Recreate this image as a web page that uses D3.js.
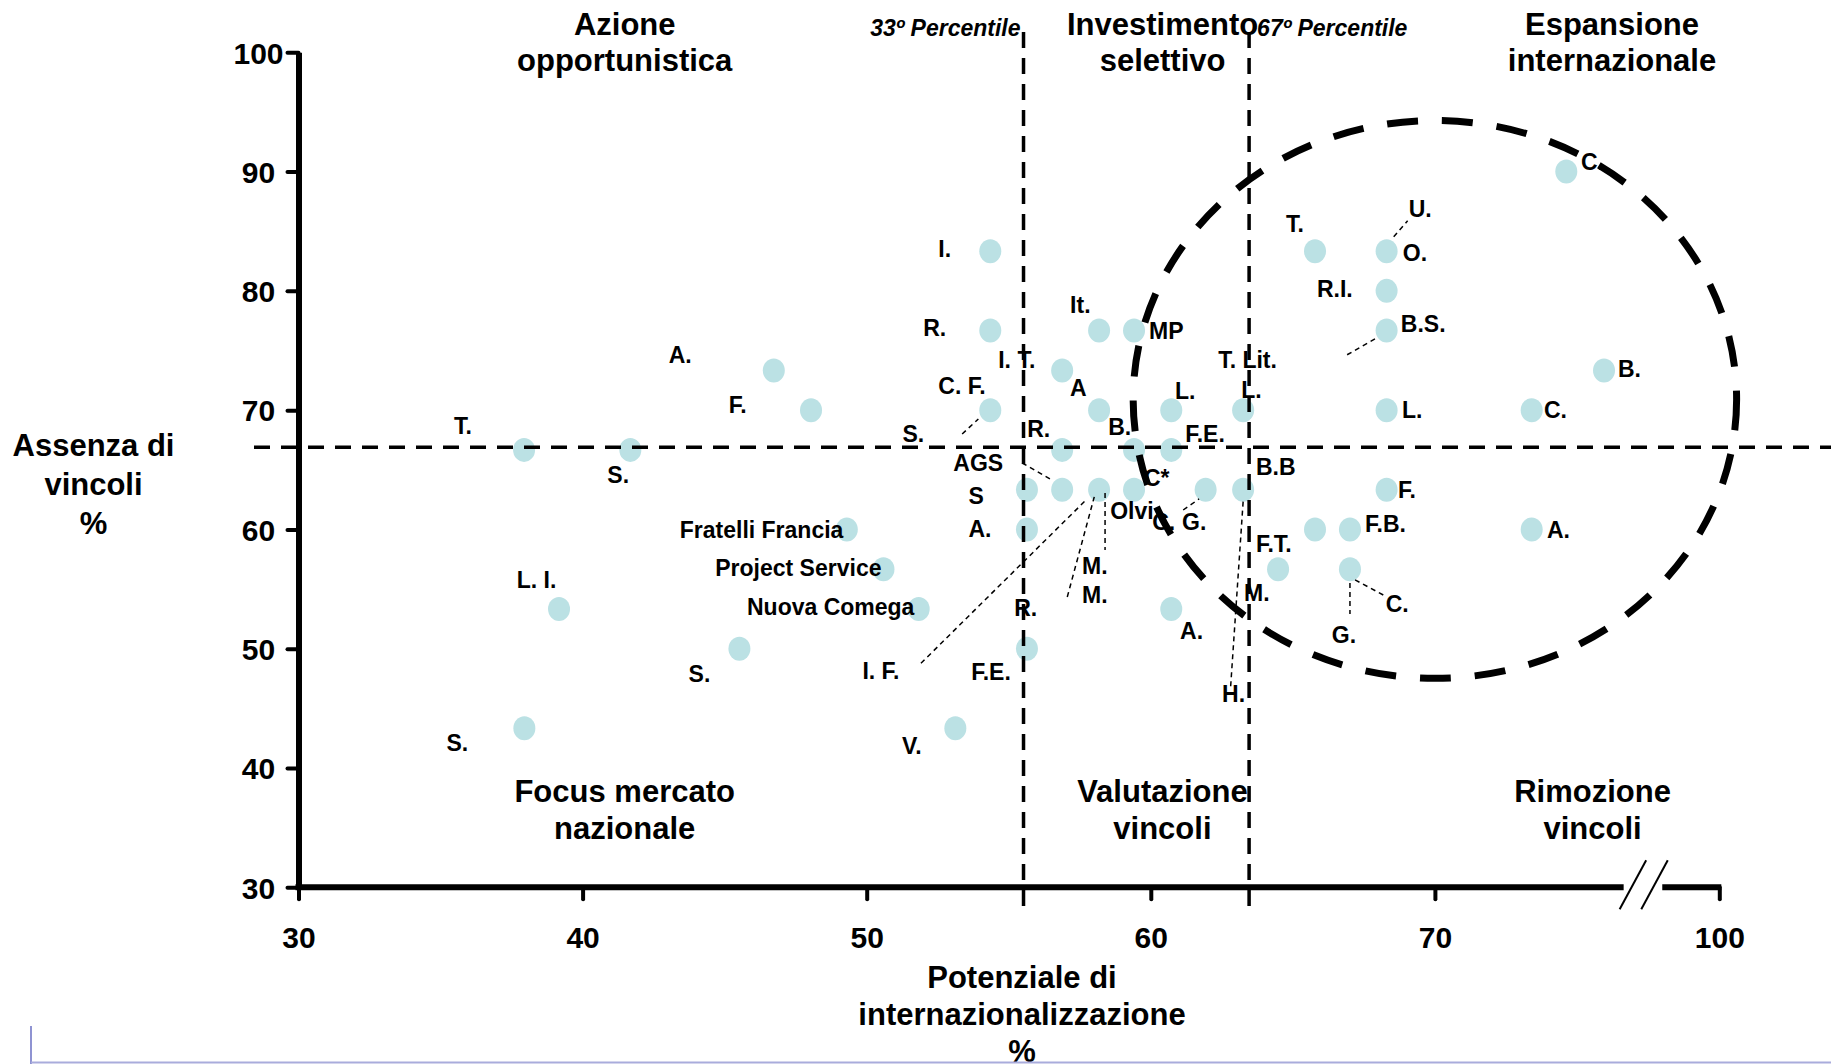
<!DOCTYPE html>
<html><head><meta charset="utf-8">
<script src="https://cdn.jsdelivr.net/npm/d3@7"></script>
<style>
body{margin:0;background:#fff;}
svg text{font-family:"Liberation Sans",Arial,Helvetica,sans-serif;font-weight:bold;fill:#000;}
</style></head><body>
<svg id="chart" width="1831" height="1064"></svg>
<script>
// ---------- data ----------
const xTicks = [30, 40, 50, 60, 70, 100];
const yTicks = [30, 40, 50, 60, 70, 80, 90, 100];
const xBreak = [89.7, 94.3];            // axis break between 70 and 100
const percentileX = [55.52, 63.46];     // 33° and 67° percentile
const percentileY = 66.9;
const percentileNames = ["33º Percentile", "67º Percentile"];

// companies: [potenziale %, assenza vincoli %]
const leftPoints = [
  [37.94, 66.67], [41.68, 66.67], [46.73, 73.33], [48.04, 70.0],
  [49.30, 60.0], [50.59, 56.67], [51.83, 53.33], [39.17, 53.33],
  [45.52, 50.0], [37.95, 43.33], [53.12, 43.33]
];
const midPoints = [
  [54.35, 83.33], [54.35, 76.67], [54.35, 70.0], [56.88, 73.33],
  [58.18, 76.67], [59.41, 76.67], [58.18, 70.0], [60.72, 70.0], [63.25, 70.0],
  [56.88, 66.67], [59.41, 66.67], [60.72, 66.67],
  [55.64, 63.33], [56.88, 63.33], [58.18, 63.33], [59.41, 63.33], [61.93, 63.33], [63.25, 63.33],
  [55.64, 60.0], [55.64, 50.0], [60.72, 53.33]
];
const rightPoints = [
  [65.78, 83.33], [68.30, 83.33], [68.30, 80.0], [68.30, 76.67], [68.30, 70.0],
  [68.30, 63.33], [65.78, 60.0], [67.01, 60.0], [64.48, 56.67], [67.01, 56.67],
  [80.21, 70.0], [80.21, 60.0], [87.84, 73.33], [83.86, 90.0]
];

// point labels: text, x, y (data units), anchor
const pointLabels = [
  ["T.",35.47,67.98],["S.",40.87,63.86],["A.",43.03,73.98],["F.",45.14,69.74],
  ["Fratelli Francia",49.18,59.26,"end"],["Project Service",50.52,56.13,"end"],["Nuova Comega",51.68,52.83,"end"],
  ["L. I.",37.68,55.1],["S.",43.73,47.19],["S.",35.21,41.44],["V.",51.24,41.18],
  ["I.",52.52,82.87],["R.",51.99,76.24],["C. F.",52.52,71.36],["S.",51.26,67.33],
  ["I. T.",54.63,73.56],["It.",57.16,78.17],["MP",59.94,75.97],["A",57.16,71.22],
  ["L.",60.85,70.94],["L.",63.18,71.02],["T. Lit.",62.37,73.54],
  ["R.",55.65,67.75],["B.",58.5,67.92],["F.E.",61.21,67.36],
  ["AGS",53.05,64.93],["C*",59.76,63.67],["B.B",63.7,64.57],["S",53.58,62.11],["A.",53.58,59.35],
  ["Olvi",58.57,60.88],["C.",60.05,59.96],["G.",61.1,59.96],["F.T.",63.7,58.14],
  ["M.",57.58,56.25],["M.",57.58,53.81],["M.",63.28,54.03],["R.",55.19,52.77],
  ["A.",61.03,50.82],["F.E.",53.68,47.38],["I. F.",49.85,47.44],["H.",62.51,45.57],
  ["T.",64.76,84.91],["U.",69.08,86.22],["O.",68.87,82.51],["R.I.",65.85,79.51],
  ["B.S.",68.8,76.58],["B.",89.31,72.76],["L.",68.84,69.32],["C.",81.51,69.32],
  ["F.",68.7,62.67],["F.B.",67.54,59.82],["A.",81.82,59.31],["C.",68.27,53.06],
  ["G.",66.37,50.51],["C.",85.41,90.16]
];

// dashed leader lines: [x1,y1,x2,y2] data units
const leaders = [
  [53.36,68.0,53.93,69.26],[55.47,65.57,56.46,64.23],[51.91,48.78,57.72,62.47],
  [57.06,54.34,58.01,62.73],[58.39,63.06,58.39,58.28],[61.14,61.63,61.7,62.56],
  [63.25,62.33,62.81,46.82],[68.55,84.54,69.04,85.88],[67.89,75.97,66.9,74.63],
  [67.19,55.77,68.24,54.43],[67.01,55.52,67.01,52.92]
];

// highlighted zone (ellipse): centre and extremes in data units
const zoneCenter = [70, 70.9];
const zoneLeftX = 59.38;
const zoneTopY = 94.28;

const quadrantTitles = [
  ["Azione", "opportunistica"], ["Investimento", "selettivo"], ["Espansione", "internazionale"],
  ["Focus mercato", "nazionale"], ["Valutazione", "vincoli"], ["Rimozione", "vincoli"]
];
const yTitle = ["Assenza di", "vincoli", "%"];
const xTitle = ["Potenziale di", "internazionalizzazione", "%"];

// ---------- layout ----------
const svg = d3.select("#chart");
const x = d3.scaleLinear().domain([30, 70, 100]).range([298.5, 1434.9, 1719.3]);
const y = d3.scaleLinear().domain([30, 100]).range([887.3, 52.3]);
const font = 31;

// points
const allPoints = leftPoints.concat(midPoints, rightPoints);
svg.append("g").selectAll("ellipse").data(allPoints).join("ellipse")
  .attr("cx", d => x(d[0])).attr("cy", d => y(d[1]))
  .attr("rx", 11).attr("ry", 12).attr("fill", "#bbe1e4");

// percentile lines
svg.append("g").selectAll("line").data(percentileX).join("line")
  .attr("x1", d => x(d)).attr("x2", d => x(d))
  .attr("y1", 32).attr("y2", 914)
  .attr("stroke", "#000").attr("stroke-width", 3.5).attr("stroke-dasharray", "16,10");
svg.append("line")
  .attr("x1", 254).attr("x2", 1831).attr("y1", y(percentileY)).attr("y2", y(percentileY))
  .attr("stroke", "#000").attr("stroke-width", 3.5).attr("stroke-dasharray", "16,11");

// ellipse zone
svg.append("ellipse")
  .attr("cx", x(zoneCenter[0])).attr("cy", y(zoneCenter[1]))
  .attr("rx", x(zoneCenter[0]) - x(zoneLeftX)).attr("ry", y(zoneCenter[1]) - y(zoneTopY))
  .attr("fill", "none").attr("stroke", "#000").attr("stroke-width", 7)
  .attr("stroke-dasharray", "31,24");

// leader lines
svg.append("g").selectAll("line").data(leaders).join("line")
  .attr("x1", d => x(d[0])).attr("y1", d => y(d[1]))
  .attr("x2", d => x(d[2])).attr("y2", d => y(d[3]))
  .attr("stroke", "#000").attr("stroke-width", 1.5).attr("stroke-dasharray", "5,4");

// point labels
svg.append("g").selectAll("text").data(pointLabels).join("text")
  .attr("x", d => x(d[1])).attr("y", d => y(d[2]))
  .attr("text-anchor", d => d[3] || "start")
  .style("font-size", "23px").text(d => d[0]);

// y axis
const yAxis = svg.append("g").attr("transform", `translate(${x(30)},0)`)
  .call(d3.axisLeft(y).tickValues(yTicks).tickSize(11).tickSizeOuter(0).tickFormat(d3.format("d")));
yAxis.attr("font-family", null).attr("font-size", null);
yAxis.select(".domain").attr("stroke", "#000").attr("stroke-width", 6);
yAxis.selectAll(".tick line").attr("stroke", "#000").attr("stroke-width", 4).attr("stroke-linecap", "round");
yAxis.selectAll(".tick text").attr("x", -40).attr("dy", "0.36em").attr("text-anchor", "middle")
  .style("font-size", "30px");

// x axis (with break)
const xAxis = svg.append("g").attr("transform", `translate(0,${y(30)})`)
  .call(d3.axisBottom(x).tickValues(xTicks).tickSize(12).tickSizeOuter(0).tickFormat(d3.format("d")));
xAxis.select(".domain").remove();
xAxis.attr("font-family", null).attr("font-size", null);
xAxis.selectAll(".tick line").attr("stroke", "#000").attr("stroke-width", 4).attr("stroke-linecap", "round");
xAxis.selectAll(".tick text").attr("y", 61).attr("dy", 0).style("font-size", "30px");
const axisSegs = [[30, xBreak[0]], [xBreak[1], 100]];
xAxis.selectAll("line.seg").data(axisSegs).join("line").attr("class", "seg")
  .attr("x1", d => x(d[0]) - 3).attr("x2", d => x(d[1]) + 2).attr("y1", 0).attr("y2", 0)
  .attr("stroke", "#000").attr("stroke-width", 6);
// two slanted break marks inside the gap
const brkStart = [x(xBreak[0]) - 2, x(xBreak[1]) - 24];
xAxis.selectAll("line.brk").data(brkStart).join("line").attr("class", "brk")
  .attr("x1", d => d).attr("y1", 22).attr("x2", d => d + 26.5).attr("y2", -27)
  .attr("stroke", "#000").attr("stroke-width", 2);

// percentile captions
svg.append("text").attr("x", x(percentileX[0]) - 3).attr("y", 35.6).attr("text-anchor", "end")
  .style("font-size", "23px").style("font-style", "italic").text(percentileNames[0]);
svg.append("text").attr("x", x(percentileX[1]) + 8).attr("y", 35.6).attr("text-anchor", "start")
  .style("font-size", "23px").style("font-style", "italic").text(percentileNames[1]);

// quadrant titles
const qCenters = [624.7, 1162.6, 1612, 624.7, 1162.4, 1592.6];
const qy = [[35, 71.3], [801.8, 839]];
quadrantTitles.forEach((lines, i) => {
  const t = svg.append("text").attr("text-anchor", "middle").style("font-size", font + "px");
  lines.forEach((s, k) => t.append("tspan").attr("x", qCenters[i]).attr("y", qy[Math.floor(i / 3)][k]).text(s));
});

// axis titles
const yt = svg.append("text").attr("text-anchor", "middle").style("font-size", font + "px");
yTitle.forEach((s, k) => yt.append("tspan").attr("x", 93.5).attr("y", 456.4 + k * 39).text(s));
const xt = svg.append("text").attr("text-anchor", "middle").style("font-size", font + "px");
xTitle.forEach((s, k) => xt.append("tspan").attr("x", 1022).attr("y", 988.4 + k * 37).text(s));

// slide frame lines
svg.append("line").attr("x1", 31).attr("x2", 31).attr("y1", 1026).attr("y2", 1064)
  .attr("stroke", "#8f93d2").attr("stroke-width", 2);
svg.append("line").attr("x1", 31).attr("x2", 1831).attr("y1", 1062.5).attr("y2", 1062.5)
  .attr("stroke", "#a9acdc").attr("stroke-width", 2);
</script>
</body></html>
